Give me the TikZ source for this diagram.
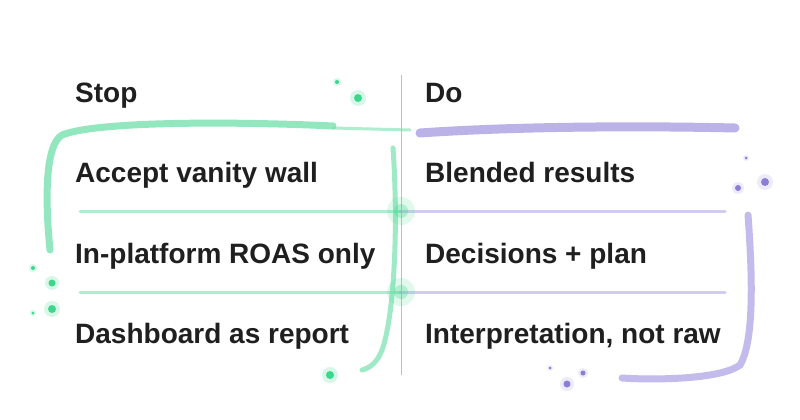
\documentclass[tikz,border=0pt]{standalone}
\usepackage{fontspec}
\setmainfont{Liberation Sans}
\definecolor{mint}{RGB}{120,225,175}
\definecolor{mintd}{RGB}{60,215,140}
\definecolor{lav}{RGB}{180,170,230}
\definecolor{lavd}{RGB}{140,125,215}
\begin{document}
\begin{tikzpicture}[x=1pt,y=-1pt,
  lbl/.style={anchor=base west,inner sep=0pt,font=\fontsize{28}{32}\selectfont\bfseries,text=black!88},
  grn/.style={draw=mint,line cap=round},
  prp/.style={draw=lav,line cap=round}]
\fill[white] (0,0) rectangle (800,420);
\useasboundingbox (0,0) rectangle (800,420);
% divider
\draw[black!25,line width=0.8pt] (401,75) -- (401,375);
% thick top lines
\draw[grn,line width=7pt,opacity=0.8] (333,126) .. controls (250,122) and (100,120) .. (62,135) .. controls (45,145) and (45,200) .. (50,250);
\draw[grn,line width=3pt,opacity=0.6] (333,128) -- (410,130);
\draw[prp,line width=9pt,opacity=0.9] (420,133) .. controls (520,126) and (650,126) .. (735,128);
% thin row lines
\draw[grn,line width=3pt,opacity=0.6] (80,211) -- (400,211);
\draw[prp,line width=3pt,opacity=0.6] (400,211) -- (725,211);
\draw[grn,line width=3pt,opacity=0.6] (80,292) -- (400,292);
\draw[prp,line width=3pt,opacity=0.6] (400,292) -- (725,292);
% green right bracket
\draw[grn,line width=5pt,opacity=0.7] (393,148) .. controls (398,220) and (395,300) .. (385,340) .. controls (380,362) and (370,368) .. (362,370);
% purple right bracket
\draw[prp,line width=7pt,opacity=0.8] (748,215) .. controls (752,270) and (755,340) .. (740,365) .. controls (720,380) and (650,380) .. (622,378);
% glow at crossings
\foreach \p in {(401,211),(401,292)}{
  \fill[mintd,opacity=0.15] \p circle (14);
  \fill[mintd,opacity=0.3] \p circle (7);
}
% dots
\foreach \x/\y/\r in {358/98/4,337/82/2,52/283/3.5,52/309/4,330/375/4,33/268/2,33/313/1.5}{
  \fill[mintd,opacity=0.2] (\x,\y) circle (\r*2);
  \fill[mintd] (\x,\y) circle (\r);}
\foreach \x/\y/\r in {765/182/4,738/188/3,746/158/1.5,567/384/3.5,583/373/2.5,550/368/1.5}{
  \fill[lavd,opacity=0.15] (\x,\y) circle (\r*2);
  \fill[lavd] (\x,\y) circle (\r);}
% texts
\node[lbl] (s) at (75,102) {Stop};
\node[lbl] (d) at (425,102) {Do};
\node[lbl] (a1) at (75,182) {Accept vanity wall};
\node[lbl] (a2) at (75,263) {In-platform ROAS only};
\node[lbl] (a3) at (75,343) {Dashboard as report};
\node[lbl] (b1) at (425,182) {Blended results};
\node[lbl] (b2) at (425,263) {Decisions + plan};
\node[lbl] (b3) at (425,343) {Interpretation, not raw};
\end{tikzpicture}
\end{document}
